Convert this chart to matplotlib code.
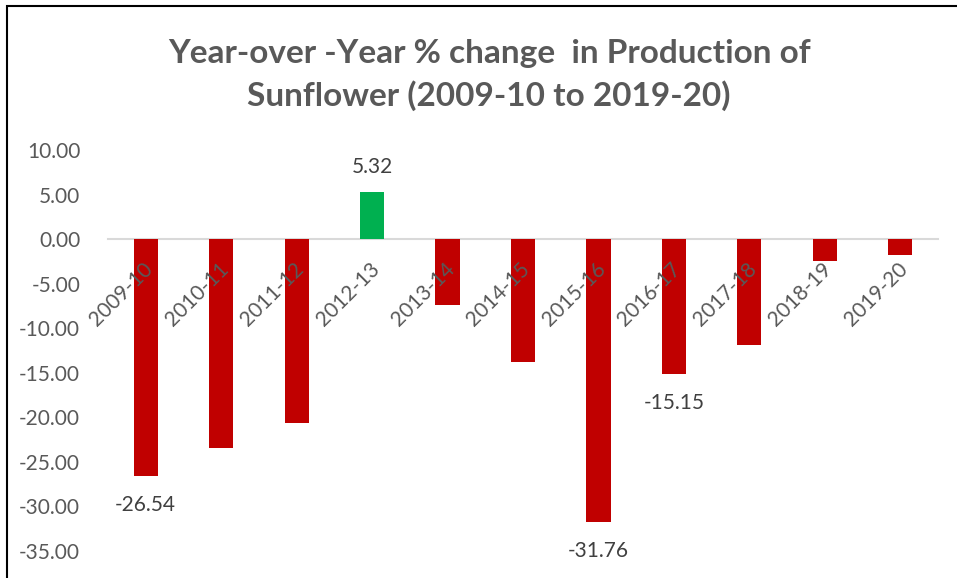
import numpy as np
import matplotlib
matplotlib.use('Agg')
import matplotlib.pyplot as plt
import matplotlib.transforms as mtransforms
from matplotlib.patches import Rectangle

plt.rcParams['font.family'] = ['Lato', 'DejaVu Sans']

# 数据
years = ['2009-10', '2010-11', '2011-12', '2012-13', '2013-14', '2014-15',
         '2015-16', '2016-17', '2017-18', '2018-19', '2019-20']
pct_change = [-26.54, -23.4, -20.6, 5.32, -7.4, -13.8, -31.76, -15.15, -11.9, -2.5, -1.8]
labelled = ['2009-10', '2012-13', '2015-16', '2016-17']
title = 'Year-over -Year % change  in Production of\nSunflower (2009-10 to 2019-20)'

fig = plt.figure(figsize=(9.57, 5.78), dpi=100)
ax = fig.add_axes([108 / 957, 1 - 551 / 578, 830 / 957, 401 / 578])

x = np.arange(len(years))
colors = ['#00B050' if v > 0 else '#C00000' for v in pct_change]
bars = ax.bar(x, pct_change, width=0.32, color=colors, zorder=2)

# 数据标签
for i, (yr, v) in enumerate(zip(years, pct_change)):
    if yr not in labelled:
        continue
    off = 18 if v > 0 else -21
    ax.annotate(f'{v:.2f}', (i, v), xytext=(0, off), textcoords='offset points',
                ha='center', va='center', fontsize=15, color='#404040')

ax.set_xlim(-0.5, len(years) - 0.5)
ax.set_ylim(-35, 10)
ax.set_yticks(np.arange(-35, 11, 5))
ax.set_yticklabels([f'{t:.2f}' for t in np.arange(-35, 11, 5)])
ax.tick_params(axis='y', length=0, labelsize=15, labelcolor='#595959', pad=20)

for s in ['top', 'right', 'left']:
    ax.spines[s].set_visible(False)
ax.spines['bottom'].set_position(('data', 0))
ax.spines['bottom'].set_color('#D9D9D9')
ax.spines['bottom'].set_linewidth(1.5)
ax.spines['bottom'].set_zorder(1)

ax.set_xticks(x)
ax.set_xticklabels(years, rotation=45, ha='right', rotation_mode='anchor')
ax.tick_params(axis='x', length=0, labelsize=15, labelcolor='#595959', pad=14)
ax.xaxis.set_zorder(3)
shift = mtransforms.ScaledTranslation(-3 / 100, 0, fig.dpi_scale_trans)
for lab in ax.get_xticklabels():
    lab.set_transform(lab.get_transform() + shift)

fig.text(489 / 957, 1 - 75 / 578, title, ha='center', va='center',
         fontsize=24, fontweight='bold', color='#595959', linespacing=1.45)

# 外框
fig.add_artist(Rectangle((6.5 / 957, -0.1), 1.2, 1.1 - 6.5 / 578, transform=fig.transFigure,
                         fill=False, edgecolor='black', linewidth=1.5, clip_on=False))

fig.savefig('out.png', dpi=100)
